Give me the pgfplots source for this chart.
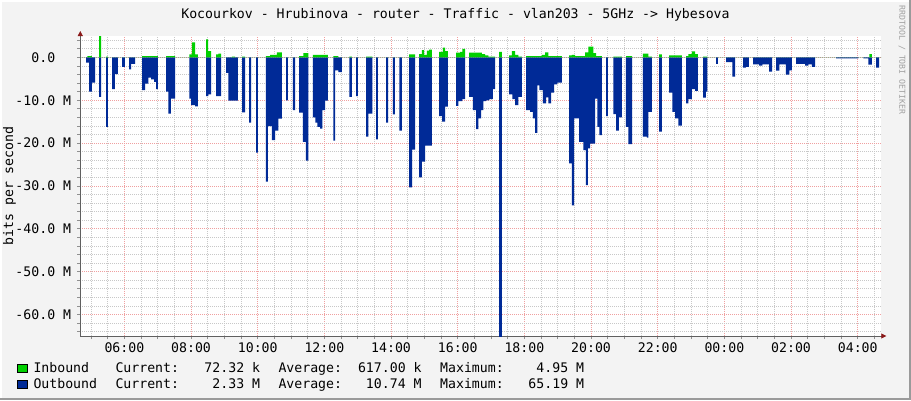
\documentclass[border=0pt]{standalone}
\usepackage{fontspec}
\setmainfont{DejaVu Sans Mono}
\usepackage{pgfplots}
\pgfplotsset{compat=1.18}
\usetikzlibrary{arrows.meta}

\definecolor{canvas}{HTML}{F3F3F3}
\definecolor{ingreen}{HTML}{00CF00}
\definecolor{outblue}{HTML}{002A97}
\definecolor{majgrid}{HTML}{F0A0A0}
\definecolor{mingrid}{HTML}{C8C8C8}
\definecolor{axisgray}{HTML}{606060}
\definecolor{arrowred}{HTML}{8B1A1A}
\definecolor{bordergray}{HTML}{9A9A9A}
\definecolor{watermark}{HTML}{A0A0A0}

\newcommand{\rrdfont}{\fontsize{13.2}{15}\selectfont}

\begin{document}
\begin{tikzpicture}[lt/.style={font=\rrdfont, inner sep=0pt}]
% canvas and frame
\useasboundingbox (0pt,0pt) rectangle (911pt,400pt);
\fill[canvas] (0pt,0pt) rectangle (911pt,400pt);
\fill[white] (0pt,398pt) rectangle (911pt,400pt);
\fill[white] (0pt,0pt) rectangle (2pt,400pt);
\fill[bordergray] (909pt,0pt) rectangle (911pt,400pt);
\fill[bordergray] (0pt,0pt) rectangle (911pt,2pt);

\begin{axis}[
  at={(80.3pt,64pt)}, anchor=south west,
  scale only axis, width=801pt, height=300pt,
  xmin=4.677, xmax=28.707, ymin=-65, ymax=5,
  axis background/.style={fill=white},
  axis lines=left,
  axis line style={draw=axisgray, line width=0.8pt, shorten >=-5pt,
    -{Triangle[length=5pt,width=5pt,color=arrowred]}},
  xtick={6,8,...,28},
  xticklabels={06:00,08:00,10:00,12:00,14:00,16:00,18:00,20:00,22:00,00:00,02:00,04:00},
  minor xtick={5,5.5,6.5,7,7.5,8.5,9,9.5,10.5,11,11.5,12.5,13,13.5,14.5,15,15.5,16.5,17,17.5,18.5,19,19.5,20.5,21,21.5,22.5,23,23.5,24.5,25,25.5,26.5,27,27.5,28.5},
  ytick={-60,-50,...,0},
  yticklabels={-60.0 M,-50.0 M,-40.0 M,-30.0 M,-20.0 M,-10.0 M,0.0\hphantom{\ M}},
  minor ytick={-64,-62,-58,-56,-54,-52,-48,-46,-44,-42,-38,-36,-34,-32,-28,-26,-24,-22,-18,-16,-14,-12,-8,-6,-4,-2,2,4},
  grid=both,
  major grid style={draw=majgrid, line width=0.8pt, dash pattern=on 1pt off 1pt},
  minor grid style={draw=mingrid, line width=0.8pt, dash pattern=on 1pt off 1pt},
  tick align=outside,
  major tick length=3pt, minor tick length=3pt,
  tick style={draw=axisgray!70, line width=0.8pt},
  tick label style={font=\rrdfont, inner sep=0pt},
  xticklabel style={anchor=north, yshift=-4pt},
  yticklabel style={anchor=east, xshift=-6pt},
]
% Outbound (drawn negative)
\addplot[const plot, draw=none, fill=outblue] coordinates {
(4.677,0)
(4.851,-1.2)(4.941,-8.0)(5.021,-5.9)(5.121,0)
(5.241,-9.2)(5.301,0)
(5.451,-16.2)(5.501,0)
(5.631,-7.4)(5.711,-3.9)(5.801,0)
(5.931,-2.2)(6.011,0)
(6.141,-2.8)(6.201,-1.5)(6.321,0)
(6.531,-7.6)(6.621,-6.1)(6.721,-4.7)(6.801,-5.1)(6.891,-5.7)(6.951,-7.4)(7.001,0)
(7.251,-8.0)(7.321,-13.1)(7.391,-9.6)(7.521,0)
(7.951,-9.6)(8.001,-11.1)(8.121,-11.4)(8.201,0)
(8.451,-9.0)(8.521,-8.6)(8.601,0)
(8.751,-9.0)(8.901,0)
(9.051,-3.6)(9.121,-10.1)(9.401,0)
(9.531,-12.8)(9.621,0)
(9.741,-15.2)(9.801,0)
(9.951,-22.2)(10.001,0)
(10.241,-29.0)(10.301,-16.0)(10.421,-19.3)(10.521,-17.1)(10.621,-14.3)(10.721,0)
(10.851,-10.0)(10.901,0)
(11.051,-12.3)(11.121,0)
(11.241,-12.9)(11.351,-19.7)(11.441,-24.1)(11.521,0)
(11.651,-14.0)(11.731,-15.2)(11.791,-16.2)(11.871,-16.6)(11.941,-12.3)(12.021,-10.1)(12.101,0)
(12.271,-19.4)(12.321,-3.0)(12.421,-3.4)(12.521,0)
(12.751,-9.2)(12.821,0)
(12.951,-9.0)(13.001,0)
(13.251,-18.5)(13.321,-13.1)(13.441,0)
(13.551,-19.1)(13.601,0)
(13.851,-15.2)(13.911,0)
(14.051,-13.3)(14.111,0)
(14.251,-17.1)(14.321,0)
(14.541,-30.3)(14.631,-21.5)(14.721,0)
(14.841,-28.0)(14.921,-24.3)(15.021,-20.6)(15.221,0)
(15.441,-13.7)(15.531,-15.0)(15.621,-11.5)(15.701,0)
(15.951,-11.3)(16.021,-10.2)(16.141,-9.7)(16.221,0)
(16.341,-9.2)(16.451,-12.3)(16.551,-16.7)(16.621,-14.2)(16.701,-12.3)(16.771,-10.2)(16.851,-10.0)(16.951,-9.7)(17.051,-7.4)(17.121,0)
(17.241,-65.19)(17.321,0)
(17.541,-8.6)(17.641,-9.7)(17.721,-11.1)(17.821,-9.2)(17.921,0)
(18.051,-12.3)(18.171,-12.7)(18.251,-14.2)(18.321,-17.6)(18.391,-6.5)(18.451,-7.6)(18.551,-10.7)(18.651,-9.3)(18.721,-10.7)(18.801,-8.2)(18.891,-6.3)(18.991,-5.9)(19.121,0)
(19.341,-24.7)(19.421,-34.5)(19.491,-14.2)(19.641,-19.7)(19.771,-21.6)(19.841,-29.8)(19.901,-21.2)(19.971,-20.1)(20.121,-9.6)(20.191,-16.2)(20.251,-18.1)(20.321,0)
(20.451,-13.7)(20.501,0)
(20.671,-13.2)(20.751,-17.1)(20.831,-14.0)(20.921,0)
(21.041,-16.2)(21.121,-20.2)(21.231,0)
(21.551,-18.5)(21.671,-18.7)(21.721,-12.7)(21.821,0)
(22.041,-17.3)(22.121,0)
(22.341,-8.2)(22.441,-12.7)(22.521,-14.2)(22.621,-15.9)(22.721,0)
(22.851,-10.7)(22.921,-9.7)(23.021,-7.4)(23.121,-7.8)(23.201,0)
(23.361,-9.4)(23.441,-8.0)(23.491,0)
(23.751,-1.5)(23.801,0)
(24.051,-1.1)(24.241,-4.5)(24.321,0)
(24.561,-2.4)(24.641,-2.2)(24.731,0)
(24.861,-1.6)(25.041,-1.9)(25.141,-1.6)(25.341,-3.3)(25.431,0)
(25.551,-3.1)(25.651,-1.6)(25.841,-4.0)(25.951,-3.0)(26.021,0)
(26.151,-1.5)(26.421,-1.9)(26.521,-1.6)(26.621,-2.2)(26.721,0)
(27.351,-0.2)(28.021,0)
(28.171,-0.2)(28.321,-1.7)(28.421,0)
(28.551,-2.4)(28.641,0)
(28.707,0)
} \closedcycle;
% Inbound
\addplot[const plot, draw=none, fill=ingreen] coordinates {
(4.677,0)
(4.891,0.3)(5.021,0)
(5.241,5.0)(5.301,0)
(5.451,0.2)(5.501,0)
(6.531,0.3)(7.001,0)
(7.251,0.3)(7.521,0)
(7.951,0.7)(8.021,3.5)(8.121,0.7)(8.201,0)
(8.451,4.2)(8.511,1.5)(8.601,0)
(8.751,0.7)(8.821,0.9)(8.901,0)
(9.221,0.2)(9.321,0)
(9.531,0.2)(9.621,0)
(10.241,0.3)(10.371,0.6)(10.571,1.2)(10.721,0)
(11.241,0.3)(11.371,1.0)(11.521,0)
(11.651,0.6)(12.101,0)
(12.271,0.3)(12.421,0)
(12.751,0.2)(12.821,0)
(13.251,0.2)(13.441,0)
(14.541,0.7)(14.721,0)
(14.841,0.8)(14.921,1.7)(14.991,0.6)(15.071,1.6)(15.141,1.8)(15.221,0)
(15.441,1.3)(15.551,2.3)(15.621,1.5)(15.701,0)
(15.951,1.1)(16.071,1.3)(16.141,2.0)(16.221,0)
(16.341,1.1)(16.721,0.8)(16.821,0.5)(16.921,0.2)(17.121,0)
(17.241,1.3)(17.321,0)
(17.541,0.5)(17.621,1.5)(17.721,0.6)(17.821,0.2)(17.921,0)
(18.051,0.3)(18.521,0.6)(18.621,1.2)(18.721,0.3)(19.121,0)
(19.341,0.5)(19.421,0.6)(19.521,0.3)(19.821,1.2)(19.921,2.5)(20.071,1.0)(20.151,0.3)(20.321,0)
(20.671,0.2)(20.921,0)
(21.051,0.3)(21.231,0)
(21.551,0.9)(21.721,0.2)(21.821,0)
(22.041,0.7)(22.121,0)
(22.341,0.5)(22.721,0)
(22.851,0.3)(22.921,0.8)(23.021,1.4)(23.121,0.8)(23.201,0)
(23.361,0.2)(23.491,0)
(28.351,0.8)(28.421,0)
(28.707,0)
} \closedcycle;
\end{axis}

% title, axis label, watermark
\node[lt, anchor=base] at (455.5pt,381pt)
  {Kocourkov - Hrubinova - router - Traffic - vlan203 - 5GHz -> Hybesova};
\node[lt, anchor=base, rotate=90] at (13.2pt,214pt) {bits per second};
\node[font=\fontsize{8.2}{9}\selectfont, inner sep=0pt, text=watermark,
  anchor=base, rotate=-90] at (899.3pt,340pt) {RRDTOOL / TOBI OETIKER};

% legend
\draw[fill=ingreen, draw=black, line width=0.8pt] (17.3pt,27.5pt) rectangle (27.3pt,36pt);
\draw[fill=outblue, draw=black, line width=0.8pt] (17.3pt,11.5pt) rectangle (27.3pt,20pt);
\node[lt, anchor=base west] at (33.3pt,27.2pt) {Inbound};
\node[lt, anchor=base west] at (115.3pt,27.2pt) {Current:};
\node[lt, anchor=base east] at (260.3pt,27.2pt) {72.32 k};
\node[lt, anchor=base west] at (278.3pt,27.2pt) {Average:};
\node[lt, anchor=base east] at (421.8pt,27.2pt) {617.00 k};
\node[lt, anchor=base west] at (440pt,27.2pt) {Maximum:};
\node[lt, anchor=base east] at (584.3pt,27.2pt) {4.95 M};
\node[lt, anchor=base west] at (33.3pt,11.2pt) {Outbound};
\node[lt, anchor=base west] at (115.3pt,11.2pt) {Current:};
\node[lt, anchor=base east] at (260.3pt,11.2pt) {2.33 M};
\node[lt, anchor=base west] at (278.3pt,11.2pt) {Average:};
\node[lt, anchor=base east] at (421.8pt,11.2pt) {10.74 M};
\node[lt, anchor=base west] at (440pt,11.2pt) {Maximum:};
\node[lt, anchor=base east] at (584.3pt,11.2pt) {65.19 M};
\end{tikzpicture}
\end{document}
